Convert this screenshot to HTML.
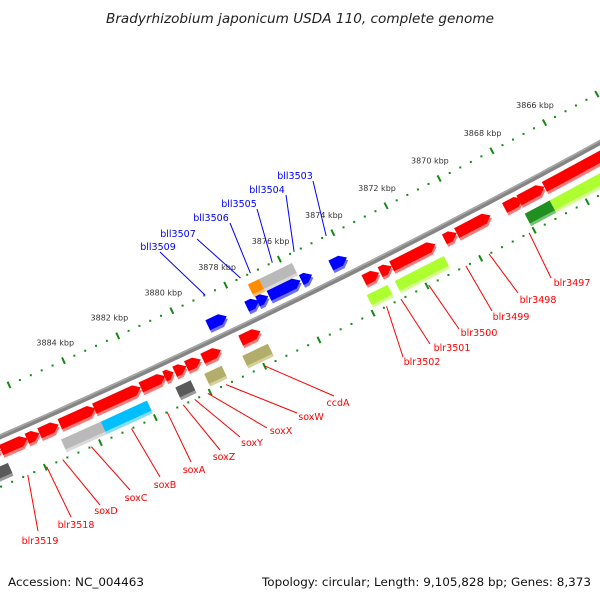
<!DOCTYPE html>
<html><head><meta charset="utf-8">
<style>
html,body{margin:0;padding:0;background:#fff;}
svg{display:block;font-family:"DejaVu Sans","Liberation Sans",sans-serif;}
</style></head>
<body>
<svg id="map" width="600" height="600" viewBox="0 0 600 600" xmlns="http://www.w3.org/2000/svg">
<rect x="0" y="0" width="600" height="600" fill="#fff"/>
<text x="300" y="23" text-anchor="middle" font-size="13" font-style="italic" fill="#222" textLength="388" lengthAdjust="spacingAndGlyphs">Bradyrhizobium japonicum USDA 110, complete genome</text>
<g id="ticks"></g>
<g id="backbone"></g>
<g id="genes"></g>
<g id="labels"></g>
<text x="8" y="586" font-size="11.5" fill="#111" textLength="136" lengthAdjust="spacingAndGlyphs">Accession: NC_004463</text>
<text x="591" y="586" text-anchor="end" font-size="11.5" fill="#111" textLength="329" lengthAdjust="spacingAndGlyphs">Topology: circular; Length: 9,105,828 bp; Genes: 8,373</text>
</svg>
<script>
// ---- data (kbp) ----
const redFrom = [3887.95,3887.12,3886.18,3885.72,3884.98,3883.72,3882.02,3881.15,3880.78,3880.35,3879.75,3878.35,3873.78,3873.18,3872.75,3870.78,3870.32,3868.52,3867.98,3867.02,3866.18];
const redTo   = [3887.12,3886.15,3885.72,3885.02,3883.68,3882.02,3881.12,3880.82,3880.35,3879.82,3879.08,3877.62,3873.22,3872.75,3871.12,3870.32,3869.05,3867.85,3867.02,3865.88,3864.45];
const blueFrom = [3879.12,3877.68,3877.28,3876.85,3875.65,3874.55];
const blueTo   = [3878.42,3877.22,3876.88,3875.68,3875.25,3873.95];
const outerFrom = [3877.32,3876.90];
const outerTo   = [3876.90,3875.68];
const outerKind = ['orange','gray'];
const featFrom = [3888.30,3885.15,3883.70,3880.98,3879.92,3878.52,3873.92,3872.88,3867.22,3868.02];
const featTo   = [3887.08,3883.68,3882.02,3880.42,3879.28,3877.58,3873.15,3871.05,3864.30,3867.08];
const featKind = ['dgray','gray','cyan','dgray','olive','olive','lgreen','lgreen','lgreen','dgreen'];
const tickMin = 3862, tickMax = 3890, tickStep = 0.4, majorStep = 2;
const labelMin = 3866, labelMax = 3884;
const redLabels = ['blr3519','blr3518','soxD','soxC','soxB','soxA','soxZ','soxY','soxX','soxW','ccdA','blr3502','blr3501','blr3500','blr3499','blr3498','blr3497'];
const redLabelGene = [1,2,3,4,5,6,7,8,9,10,11,12,13,14,15,16,17];
const blueLabels = ['bll3509','bll3507','bll3506','bll3505','bll3504','bll3503'];
const blueLabelGene = [0,1,2,3,4,5];

// ---- layout ----
const redLabelPos = [[40,544],[76,528],[106,514],[136,501],[165,488],[194,473],[224,460],[252,446],[281,434],[311,420],[338,406],[422,365],[452,351],[479,336],[511,320],[538,303],[572,286]];
const redLineEnd = [[38,531],[71,517],[100,505],[130,490],[160,477],[191,462],[220,450],[240,437],[267,428],[297,413],[334,396],[403,357],[430,344],[459,329],[492,311],[518,293],[551,278]];
const blueLabelPos = [[158,250],[178,237],[211,221],[239,207],[267,193],[295,179]];
const blueLineEnd = [[160,252],[197,239],[230,223],[257,209],[286,195],[313,181]];
const colors = {
  red:['#ff0000','#ff7a7a'], blue:['#0000ff','#6e6eff'], gray:['#b9b9b9','#dadada'],
  orange:['#ff8c00','#ffbf70'], olive:['#b3ad6b','#d6d19c'], dgray:['#5a5a5a','#9a9a9a'],
  cyan:['#00bfff','#85dcff'], lgreen:['#adff2f','#d4ff94'], dgreen:['#1f8f1f','#74c474']
};
const KREF = 3875.953, PXK = 30, R = 7500;
const M = [300,298], d0 = [0.44,0.898], u = [0.898,-0.44];
const C = [M[0]-R*d0[0], M[1]-R*d0[1]];
const NS = 'http://www.w3.org/2000/svg';
function sOf(k){ return (KREF-k)*PXK; }
function P(s,n){
  const a = s/R, c = Math.cos(a), sn = Math.sin(a), r = R+n;
  return [C[0]+r*(d0[0]*c+u[0]*sn), C[1]+r*(d0[1]*c+u[1]*sn)];
}
function pts(list){ return list.map(p=>p[0].toFixed(1)+','+p[1].toFixed(1)).join(' '); }
function mk(tag, attrs, parent){
  const e = document.createElementNS(NS, tag);
  for (const k in attrs) e.setAttribute(k, attrs[k]);
  parent.appendChild(e); return e;
}
const gT = document.getElementById('ticks'), gB = document.getElementById('backbone'),
      gG = document.getElementById('genes'), gL = document.getElementById('labels');

// backbone
const bb = [], bbTop = [];
for (let s=-440; s<=440; s+=10){ bb.push(P(s,0)); bbTop.push(P(s,-1.5)); }
const bl = mk('polyline',{points:pts(bb),fill:'none',stroke:'#858585','stroke-width':5},gB);


const bl2 = mk('polyline',{points:pts(bbTop),fill:'none',stroke:'#a8a8a8','stroke-width':1.5},gB);



// ticks
const rings = [-44, 46];
for (let i=0; tickMin+i*tickStep<=tickMax+1e-6; i++){
  const k = tickMin+i*tickStep, s = sOf(k);
  if (s<-440 || s>440) continue;
  const major = Math.abs(k/majorStep - Math.round(k/majorStep))<1e-6;
  rings.forEach(function(n){
    if (major){
      const a = P(s,n-3.5), b = P(s,n+3.5);
      const t = mk('line',{x1:a[0],y1:a[1],x2:b[0],y2:b[1],stroke:'#138a13','stroke-width':2},gT);
      
      
    } else {
      const a = P(s,n);
      const d = mk('rect',{x:a[0]-1,y:a[1]-1,width:2,height:2,fill:'#138a13'},gT);
      
      
    }
  });
  if (major && k>=labelMin-1e-6 && k<=labelMax+1e-6){
    const p = P(s,-64);
    const tx = mk('text',{x:p[0],y:p[1]+3,'text-anchor':'middle','font-size':8,fill:'#333'},gT);
    tx.textContent = Math.round(k)+' kbp';
    
    
  }
}

// features
function feature(kFrom,kTo,n1,kind,arrow,name){
  let s1 = sOf(kFrom), s2 = sOf(kTo);
  if (s1>s2){ const t=s1; s1=s2; s2=t; }
  const col = colors[kind];
  const g = mk('g',{},gG);
  
  
  function shape(a,b){
    const mid=(a+b)/2, L=[];
    if (arrow){
      const h = Math.min(7,(s2-s1)*0.6);
      L.push(P(s1,a),P(s2-h,a),P(s2,mid),P(s2-h,b),P(s1,b));
    } else {
      L.push(P(s1,a),P(s2,a),P(s2,b),P(s1,b));
    }
    return pts(L);
  }
  mk('polygon',{points:shape(n1+3,n1+14),fill:col[1]},g);
  mk('polygon',{points:shape(n1,n1+11),fill:col[0]},g);
}
redFrom.forEach((f,i)=>feature(f,redTo[i],7,'red',true,'forward-gene'));
blueFrom.forEach((f,i)=>feature(f,blueTo[i],-21,'blue',true,'reverse-gene'));
outerFrom.forEach((f,i)=>feature(f,outerTo[i],-35,outerKind[i],false,'outer-feature'));
featFrom.forEach((f,i)=>feature(f,featTo[i],27,featKind[i],false,'inner-feature'));

// labels
function label(text,gs,ge,n,end,pos,color){
  const sm = (sOf(gs)+sOf(ge))/2, a = P(sm,n);
  const ln = mk('line',{x1:a[0],y1:a[1],x2:end[0],y2:end[1],stroke:color,'stroke-width':1},gL);
  
  
  const t = mk('text',{x:pos[0],y:pos[1],'text-anchor':'middle','font-size':9.5,fill:color},gL);
  t.textContent = text;
  
  
}
redLabels.forEach((t,i)=>{ const g=redLabelGene[i]; label(t,redFrom[g],redTo[g],46,redLineEnd[i],redLabelPos[i],'#ff0000'); });
blueLabels.forEach((t,i)=>{ const g=blueLabelGene[i]; label(t,blueFrom[g],blueTo[g],-44,blueLineEnd[i],blueLabelPos[i],'#0000ff'); });
</script>
</body></html>
